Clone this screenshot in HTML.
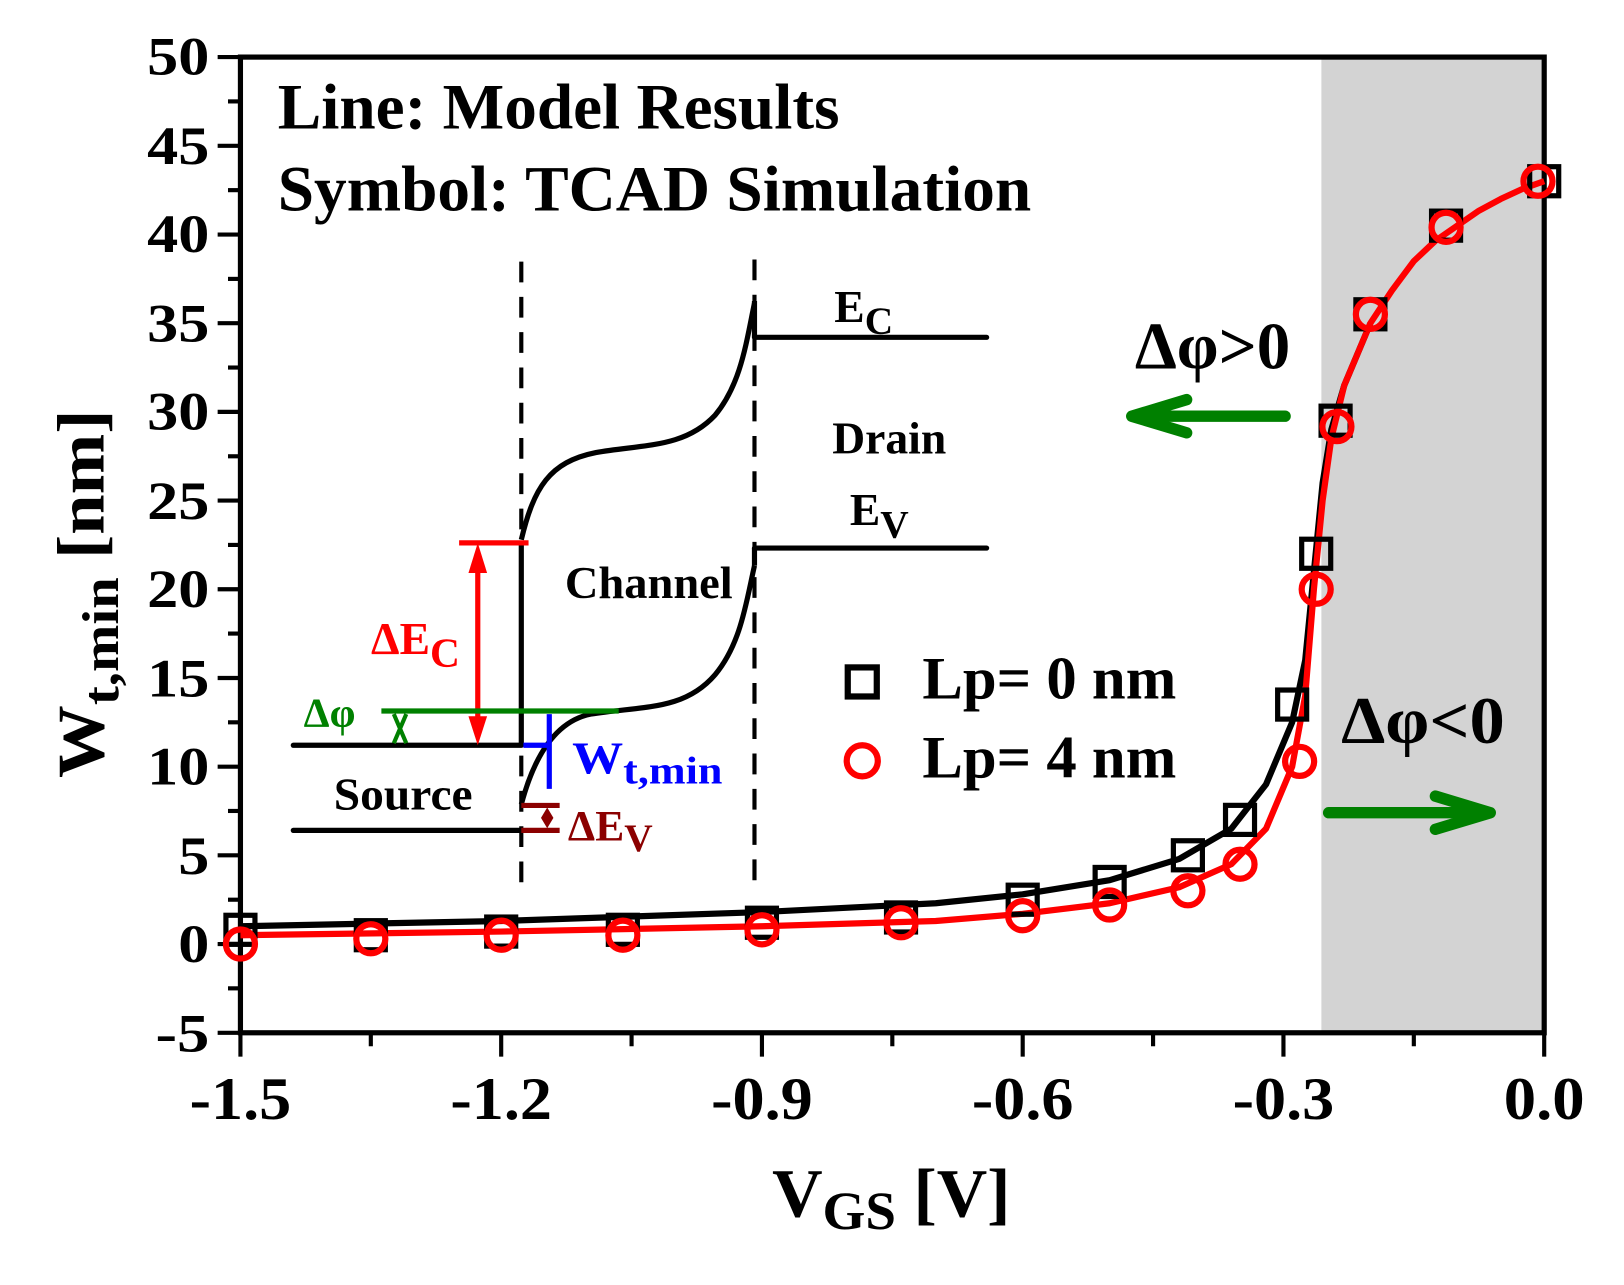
<!DOCTYPE html>
<html><head><meta charset="utf-8"><style>
html,body{margin:0;padding:0;background:#fff;}
svg{display:block;}
text{font-family:"Liberation Serif",serif;font-weight:bold;}
</style></head><body>
<svg width="1624" height="1285" viewBox="0 0 1567 1238" preserveAspectRatio="none" xmlns="http://www.w3.org/2000/svg">
<rect x="1275" y="55" width="215" height="940" fill="#d3d3d3"/>
<rect x="232" y="55" width="1258" height="940" fill="none" stroke="#000" stroke-width="5"/>
<g stroke="#000" stroke-width="4">
<line x1="210" y1="55" x2="232" y2="55"/><line x1="210" y1="140.5" x2="232" y2="140.5"/><line x1="210" y1="226" x2="232" y2="226"/><line x1="210" y1="311.4" x2="232" y2="311.4"/><line x1="210" y1="396.8" x2="232" y2="396.8"/><line x1="210" y1="482.3" x2="232" y2="482.3"/><line x1="210" y1="567.7" x2="232" y2="567.7"/><line x1="210" y1="653.2" x2="232" y2="653.2"/><line x1="210" y1="738.6" x2="232" y2="738.6"/><line x1="210" y1="824" x2="232" y2="824"/><line x1="210" y1="909.5" x2="232" y2="909.5"/><line x1="210" y1="995" x2="232" y2="995"/>
<line x1="220" y1="97.7" x2="232" y2="97.7"/><line x1="220" y1="183.2" x2="232" y2="183.2"/><line x1="220" y1="268.7" x2="232" y2="268.7"/><line x1="220" y1="354.1" x2="232" y2="354.1"/><line x1="220" y1="439.6" x2="232" y2="439.6"/><line x1="220" y1="525" x2="232" y2="525"/><line x1="220" y1="610.4" x2="232" y2="610.4"/><line x1="220" y1="695.9" x2="232" y2="695.9"/><line x1="220" y1="781.3" x2="232" y2="781.3"/><line x1="220" y1="866.8" x2="232" y2="866.8"/><line x1="220" y1="952.2" x2="232" y2="952.2"/>
<line x1="232" y1="995" x2="232" y2="1018"/><line x1="483.6" y1="995" x2="483.6" y2="1018"/><line x1="735.2" y1="995" x2="735.2" y2="1018"/><line x1="986.8" y1="995" x2="986.8" y2="1018"/><line x1="1238.4" y1="995" x2="1238.4" y2="1018"/><line x1="1490" y1="995" x2="1490" y2="1018"/>
<line x1="357.8" y1="995" x2="357.8" y2="1008"/><line x1="609.4" y1="995" x2="609.4" y2="1008"/><line x1="861" y1="995" x2="861" y2="1008"/><line x1="1112.6" y1="995" x2="1112.6" y2="1008"/><line x1="1364.2" y1="995" x2="1364.2" y2="1008"/>
</g>
<g font-size="52" text-anchor="end">
<text x="202" y="72" textLength="60" lengthAdjust="spacingAndGlyphs">50</text><text x="202" y="158" textLength="60" lengthAdjust="spacingAndGlyphs">45</text><text x="202" y="243" textLength="60" lengthAdjust="spacingAndGlyphs">40</text><text x="202" y="329" textLength="60" lengthAdjust="spacingAndGlyphs">35</text><text x="202" y="414" textLength="60" lengthAdjust="spacingAndGlyphs">30</text><text x="202" y="500" textLength="60" lengthAdjust="spacingAndGlyphs">25</text><text x="202" y="585" textLength="60" lengthAdjust="spacingAndGlyphs">20</text><text x="202" y="671" textLength="60" lengthAdjust="spacingAndGlyphs">15</text><text x="202" y="756" textLength="60" lengthAdjust="spacingAndGlyphs">10</text><text x="202" y="842" textLength="30" lengthAdjust="spacingAndGlyphs">5</text><text x="202" y="927" textLength="30" lengthAdjust="spacingAndGlyphs">0</text><text x="202" y="1013" textLength="52" lengthAdjust="spacingAndGlyphs">-5</text>
</g>
<g font-size="58" text-anchor="middle">
<text x="232" y="1078" textLength="98" lengthAdjust="spacingAndGlyphs">-1.5</text><text x="483.6" y="1078" textLength="98" lengthAdjust="spacingAndGlyphs">-1.2</text><text x="735.2" y="1078" textLength="98" lengthAdjust="spacingAndGlyphs">-0.9</text><text x="986.8" y="1078" textLength="98" lengthAdjust="spacingAndGlyphs">-0.6</text><text x="1238.4" y="1078" textLength="98" lengthAdjust="spacingAndGlyphs">-0.3</text><text x="1490" y="1078" textLength="78" lengthAdjust="spacingAndGlyphs">0.0</text>
</g>
<text x="745" y="1172" font-size="66" font-weight="normal" textLength="230" lengthAdjust="spacingAndGlyphs">V<tspan font-size="52" dy="12">GS</tspan><tspan dy="-12"> [V]</tspan></text>
<text transform="translate(100,572) rotate(-90)" font-size="64" text-anchor="middle" textLength="355" lengthAdjust="spacingAndGlyphs">W<tspan font-size="50" dy="14">t,min</tspan><tspan dy="-14"> [nm]</tspan></text>
<text x="268" y="124" font-size="62" textLength="542" lengthAdjust="spacingAndGlyphs">Line: Model Results</text>
<text x="268" y="203" font-size="62" textLength="727" lengthAdjust="spacingAndGlyphs">Symbol: TCAD Simulation</text>
<g stroke="#000" stroke-width="5" fill="none">
<line x1="503" y1="252" x2="503" y2="858" stroke-dasharray="20,14" stroke-width="4"/>
<line x1="728" y1="250" x2="728" y2="858" stroke-dasharray="20,14" stroke-width="4"/>
<line x1="283" y1="718" x2="503" y2="718" stroke-linecap="round"/>
<line x1="283" y1="800" x2="503" y2="800" stroke-linecap="round"/>
<line x1="503" y1="523" x2="503" y2="718"/>
<path d="M503,520 C515,470 530,445 575,436 C620,428 660,432 690,400 C715,370 720,330 728,292"/>
<line x1="728" y1="290" x2="728" y2="325"/>
<line x1="728" y1="325" x2="952" y2="325" stroke-linecap="round"/>
<path d="M503,775 C515,730 535,695 570,688 C620,680 660,685 690,650 C715,620 720,580 728,545"/>
<line x1="728" y1="545" x2="728" y2="528"/>
<line x1="728" y1="528" x2="952" y2="528" stroke-linecap="round"/>
</g>
<g font-size="44">
<text x="322" y="780" textLength="134" lengthAdjust="spacingAndGlyphs">Source</text>
<text x="545" y="576" textLength="162" lengthAdjust="spacingAndGlyphs">Channel</text>
<text x="803" y="437" textLength="110" lengthAdjust="spacingAndGlyphs">Drain</text>
<text x="805" y="310">E<tspan font-size="38" dy="12">C</tspan></text>
<text x="820" y="506">E<tspan font-size="38" dy="12">V</tspan></text>
</g>
<g stroke="#ff0000" stroke-width="5" fill="#ff0000">
<line x1="443" y1="523" x2="510" y2="523"/>
<line x1="461" y1="540" x2="461" y2="700"/>
<polygon points="461,523 452,552 470,552" stroke="none"/>
<polygon points="461,718 452,690 470,690" stroke="none"/>
</g>
<text x="358" y="630" font-size="44" fill="#ff0000">ΔE<tspan font-size="40" dy="12">C</tspan></text>
<line x1="368" y1="685" x2="597" y2="685" stroke="#008000" stroke-width="5"/>
<path d="M380,688 L392,716 M392,688 L380,716" stroke="#008000" stroke-width="4"/>
<text x="293" y="700" font-size="40" fill="#008000">Δφ</text>
<g stroke="#0000ff" stroke-width="5">
<line x1="505" y1="718" x2="530" y2="718"/>
<line x1="530" y1="688" x2="530" y2="760"/>
</g>
<text x="552" y="745" font-size="44" fill="#0000ff" textLength="145" lengthAdjust="spacingAndGlyphs">W<tspan font-size="38" dy="10">t,min</tspan></text>
<g stroke="#8b0000" stroke-width="5" fill="#8b0000">
<line x1="503" y1="776" x2="540" y2="776"/>
<line x1="503" y1="800" x2="540" y2="800"/>
<polygon points="528,778 534,788 528,798 522,788" stroke="none"/>
</g>
<text x="548" y="810" font-size="42" fill="#8b0000">ΔE<tspan font-size="38" dy="10">V</tspan></text>
<text x="1095" y="355" font-size="64" textLength="150" lengthAdjust="spacingAndGlyphs">Δφ&gt;0</text>
<text x="1294" y="716" font-size="64" textLength="158" lengthAdjust="spacingAndGlyphs">Δφ&lt;0</text>
<g stroke="#008000" stroke-width="11" fill="none" stroke-linecap="round">
<line x1="1240" y1="401" x2="1100" y2="401"/>
<path d="M1145,385 L1092,401 L1145,417" stroke-linejoin="round"/>
<line x1="1282" y1="783" x2="1432" y2="783"/>
<path d="M1385,767 L1438,783 L1385,799" stroke-linejoin="round"/>
</g>
<polyline fill="none" stroke="#000" stroke-width="6" stroke-linejoin="round" points="232,892.4 483.6,887.3 735.2,878.7 902.9,870.2 986.8,861.6 1070.7,848 1137.8,827.5 1188.1,798.4 1221.6,755.7 1246.8,695.9 1259.4,636.1 1267.8,550.6 1276.2,465.2 1284.6,413.9 1297.1,371.2 1322.3,311.4"/>
<polyline fill="none" stroke="#ff0000" stroke-width="6" stroke-linejoin="round" points="232,901 483.6,897.5 735.2,892.4 902.9,887.3 986.8,880.4 1070.7,870.2 1137.8,854.8 1188.1,832.6 1221.6,798.4 1246.8,738.6 1259.4,670.2 1267.8,567.7 1276.2,482.3 1284.6,422.4 1297.1,371.2 1322.3,311.4 1343,280 1364.2,251.6 1385,232 1406.1,217.4 1427,203 1448.1,191.7 1469,182 1490,174.6"/>
<g fill="none" stroke="#000" stroke-width="5">
<rect x="218" y="881.8" width="28" height="28"/><rect x="343.8" y="887" width="28" height="28"/><rect x="469.6" y="883.5" width="28" height="28"/><rect x="587" y="881.8" width="28" height="28"/><rect x="721.2" y="875" width="28" height="28"/><rect x="855.4" y="869.9" width="28" height="28"/><rect x="972.8" y="852.8" width="28" height="28"/><rect x="1056.7" y="835.7" width="28" height="28"/><rect x="1132.2" y="810" width="28" height="28"/><rect x="1182.5" y="775.9" width="28" height="28"/><rect x="1232.8" y="664.8" width="28" height="28"/><rect x="1256" y="519.5" width="28" height="28"/><rect x="1274.7" y="391.3" width="28" height="28"/><rect x="1308.3" y="288.8" width="28" height="28"/><rect x="1381.3" y="203.4" width="28" height="28"/><rect x="1476" y="160.6" width="28" height="28"/>
</g>
<g fill="none" stroke="#ff0000" stroke-width="6">
<circle cx="232" cy="909.5" r="14"/><circle cx="357.8" cy="904.4" r="14"/><circle cx="483.6" cy="901" r="14"/><circle cx="601" cy="901" r="14"/><circle cx="735.2" cy="895.8" r="14"/><circle cx="869.4" cy="889" r="14"/><circle cx="986.8" cy="882.2" r="14"/><circle cx="1070.7" cy="871.9" r="14"/><circle cx="1146.2" cy="858.2" r="14"/><circle cx="1196.5" cy="832.6" r="14"/><circle cx="1254" cy="733.5" r="14"/><circle cx="1270" cy="567.7" r="14"/><circle cx="1290" cy="411" r="14"/><circle cx="1322.3" cy="302.8" r="14"/><circle cx="1395.3" cy="219" r="14"/><circle cx="1484" cy="174.6" r="14"/>
</g>
<rect x="818" y="643" width="28" height="28" fill="none" stroke="#000" stroke-width="6"/>
<circle cx="832" cy="733" r="15" fill="none" stroke="#ff0000" stroke-width="6"/>
<text x="890" y="673" font-size="58" font-weight="normal" textLength="245" lengthAdjust="spacingAndGlyphs">Lp= 0 nm</text>
<text x="890" y="749" font-size="58" font-weight="normal" textLength="245" lengthAdjust="spacingAndGlyphs">Lp= 4 nm</text>
</svg>
</body></html>
